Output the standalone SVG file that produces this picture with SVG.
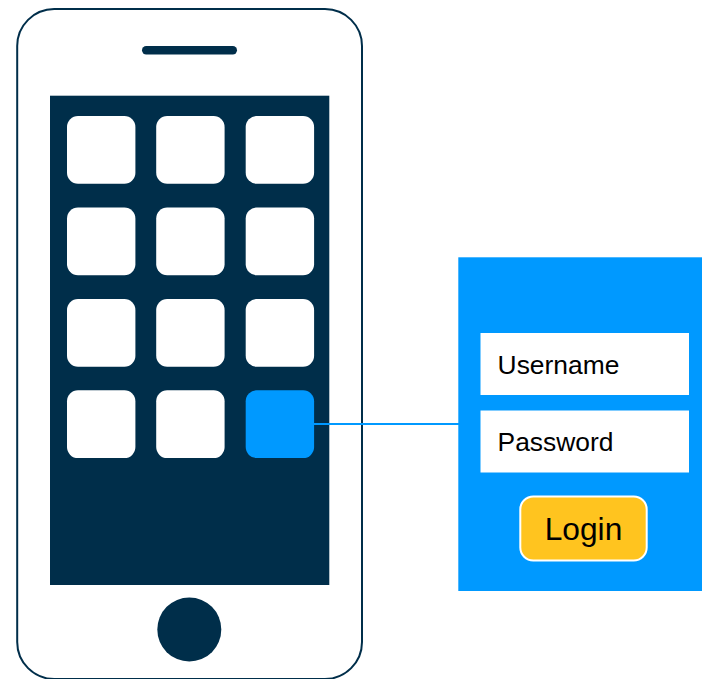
<svg xmlns="http://www.w3.org/2000/svg" width="702" height="679" viewBox="0 0 702 679">
<style>
.dark{fill:#002e4a}
.tile{fill:#fff}
.field{fill:#fff}
text{font-family:"Liberation Sans",Arial,sans-serif;fill:#000}
.f{font-size:26.4px}
</style>
<rect width="702" height="679" fill="#fff"/>
<g id="phone">
<rect x="17.2" y="9" width="344.8" height="670" rx="37" ry="37" fill="#fff" stroke="#002e4a" stroke-width="2"/>
<rect class="dark" x="142" y="46" width="95" height="8.4" rx="4.2"/>
<rect class="dark" x="50" y="95.7" width="279.3" height="489.3"/>
<circle class="dark" cx="189.3" cy="629.5" r="32"/>
</g>
<g id="tiles">
<rect id="tile1" class="tile" x="67" y="116" width="68.4" height="67.8" rx="11"/>
<rect id="tile2" class="tile" x="156.2" y="116" width="68.4" height="67.8" rx="11"/>
<rect id="tile3" class="tile" x="245.7" y="116" width="68.4" height="67.8" rx="11"/>
<rect id="tile4" class="tile" x="67" y="207.5" width="68.4" height="67.8" rx="11"/>
<rect id="tile5" class="tile" x="156.2" y="207.5" width="68.4" height="67.8" rx="11"/>
<rect id="tile6" class="tile" x="245.7" y="207.5" width="68.4" height="67.8" rx="11"/>
<rect id="tile7" class="tile" x="67" y="299" width="68.4" height="67.8" rx="11"/>
<rect id="tile8" class="tile" x="156.2" y="299" width="68.4" height="67.8" rx="11"/>
<rect id="tile9" class="tile" x="245.7" y="299" width="68.4" height="67.8" rx="11"/>
<rect id="tile10" class="tile" x="67" y="390.3" width="68.4" height="67.8" rx="11"/>
<rect id="tile11" class="tile" x="156.2" y="390.3" width="68.4" height="67.8" rx="11"/>
<rect id="tile12" x="245.7" y="390.3" width="68.4" height="67.8" rx="11" fill="#0099ff"/>
</g>
<g id="connectors">
<line x1="314" y1="424" x2="459" y2="424" stroke="#0099ff" stroke-width="2"/>
</g>
<g id="panel">
<rect x="458.3" y="257.3" width="243.7" height="333.7" fill="#0099ff"/>
</g>
<g id="username">
<rect class="field" x="480.5" y="333" width="208.5" height="62"/>
<text class="f" x="497.6" y="373.5">Username</text>
</g>
<g id="password">
<rect class="field" x="480.5" y="410.5" width="208.5" height="62"/>
<text class="f" x="497.6" y="451">Password</text>
</g>
<g id="login">
<rect x="520.3" y="496.5" width="126.4" height="64" rx="13" fill="#ffc41f" stroke="#fff" stroke-width="2"/>
<text x="583.5" y="540" font-size="31.7" text-anchor="middle">Login</text>
</g>
</svg>
